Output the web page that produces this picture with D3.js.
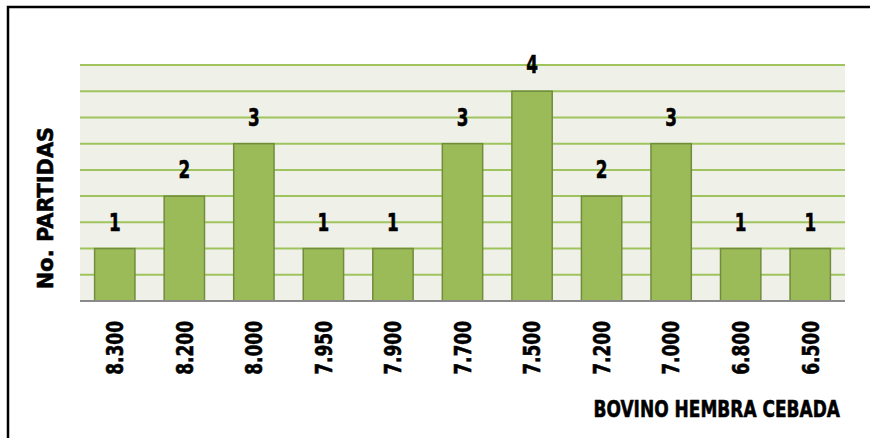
<!DOCTYPE html>
<html>
<head>
<meta charset="utf-8">
<script src="https://cdn.jsdelivr.net/npm/d3@7"></script>
<style>
  body { margin: 0; background: #fff; }
  text { font-family: "DejaVu Sans", sans-serif; font-weight: bold; fill: #000; stroke: #000; stroke-width: 0.6px; }
</style>
</head>
<body>
<div class="chart"></div>
<script>
const categories = ["8.300", "8.200", "8.000", "7.950", "7.900", "7.700", "7.500", "7.200", "7.000", "6.800", "6.500"];
const partidas = [1, 2, 3, 1, 1, 3, 4, 2, 3, 1, 1];
const gridTicks = [0.5, 1, 1.5, 2, 2.5, 3, 3.5, 4, 4.5];

var width = 870, height = 438;
var margin = { top: 65, left: 80, right: 25, bottom: 137 };

var svg = d3.select(".chart")
    .append("svg")
    .attr("width", width)
    .attr("height", height);

// outer frame (only top/left visible in the picture)
svg.append("rect")
    .attr("x", 8).attr("y", 7)
    .attr("width", 900).attr("height", 460)
    .attr("fill", "none")
    .attr("stroke", "#000")
    .attr("stroke-width", 2.5);

var xScale = d3.scaleBand()
    .domain(categories)
    .range([margin.left, width - margin.right])
    .paddingInner(0.42)
    .paddingOuter(0.21);

var yScale = d3.scaleLinear()
    .domain([0, 4.5])
    .range([height - margin.bottom, margin.top]);

// plot background
svg.append("rect")
    .attr("x", margin.left)
    .attr("y", yScale(4.5))
    .attr("width", width - margin.right - margin.left)
    .attr("height", yScale(0) - yScale(4.5))
    .attr("fill", "#eff1e9");

// gridlines
svg.append("g")
    .selectAll("line")
    .data(gridTicks)
    .enter()
    .append("line")
    .attr("x1", margin.left)
    .attr("x2", width - margin.right)
    .attr("y1", function(d) { return yScale(d); })
    .attr("y2", function(d) { return yScale(d); })
    .attr("stroke", "#9fc45e")
    .attr("stroke-width", 2);

// bars
svg.append("g")
    .selectAll("rect")
    .data(partidas)
    .enter()
    .append("rect")
    .attr("x", function(d, i) { return xScale(categories[i]); })
    .attr("y", function(d) { return yScale(d); })
    .attr("width", xScale.bandwidth())
    .attr("height", function(d) { return yScale(0) - yScale(d); })
    .attr("fill", "#9bbb59")
    .attr("stroke", "#718c3d")
    .attr("stroke-width", 1.5);

// value labels (narrowed to look like a condensed face)
svg.append("g")
    .selectAll("text")
    .data(partidas)
    .enter()
    .append("text")
    .attr("transform", function(d, i) {
        var cx = xScale(categories[i]) + xScale.bandwidth() / 2;
        return `translate(${cx},${yScale(d) - 18}) scale(0.7,1)`;
    })
    .attr("text-anchor", "middle")
    .style("font-size", "24px")
    .text(function(d) { return d; });

// baseline
svg.append("line")
    .attr("x1", margin.left)
    .attr("x2", width - margin.right)
    .attr("y1", yScale(0))
    .attr("y2", yScale(0))
    .attr("stroke", "#8a8a8a")
    .attr("stroke-width", 2);

// x axis labels (rotated, condensed)
var xAxis = svg.append("g")
    .attr("transform", `translate(0,${yScale(0)})`)
    .call(d3.axisBottom(xScale).tickSize(0).tickPadding(0));
xAxis.select(".domain").remove();
xAxis.selectAll("text")
    .attr("x", 0)
    .attr("y", 0)
    .attr("transform", "translate(0,20) rotate(-90) scale(0.74,1)")
    .attr("dy", "0.36em")
    .attr("text-anchor", "end")
    .style("font-size", "23px")
    .style("font-family", null);

// axis titles
svg.append("text")
    .attr("transform", "translate(53,208) rotate(-90) scale(0.95,1)")
    .attr("text-anchor", "middle")
    .style("font-size", "22px")
    .text("No. PARTIDAS");

svg.append("text")
    .attr("transform", "translate(840,417) scale(0.74,1)")
    .attr("text-anchor", "end")
    .style("font-size", "23px")
    .text("BOVINO HEMBRA CEBADA");
</script>
</body>
</html>
